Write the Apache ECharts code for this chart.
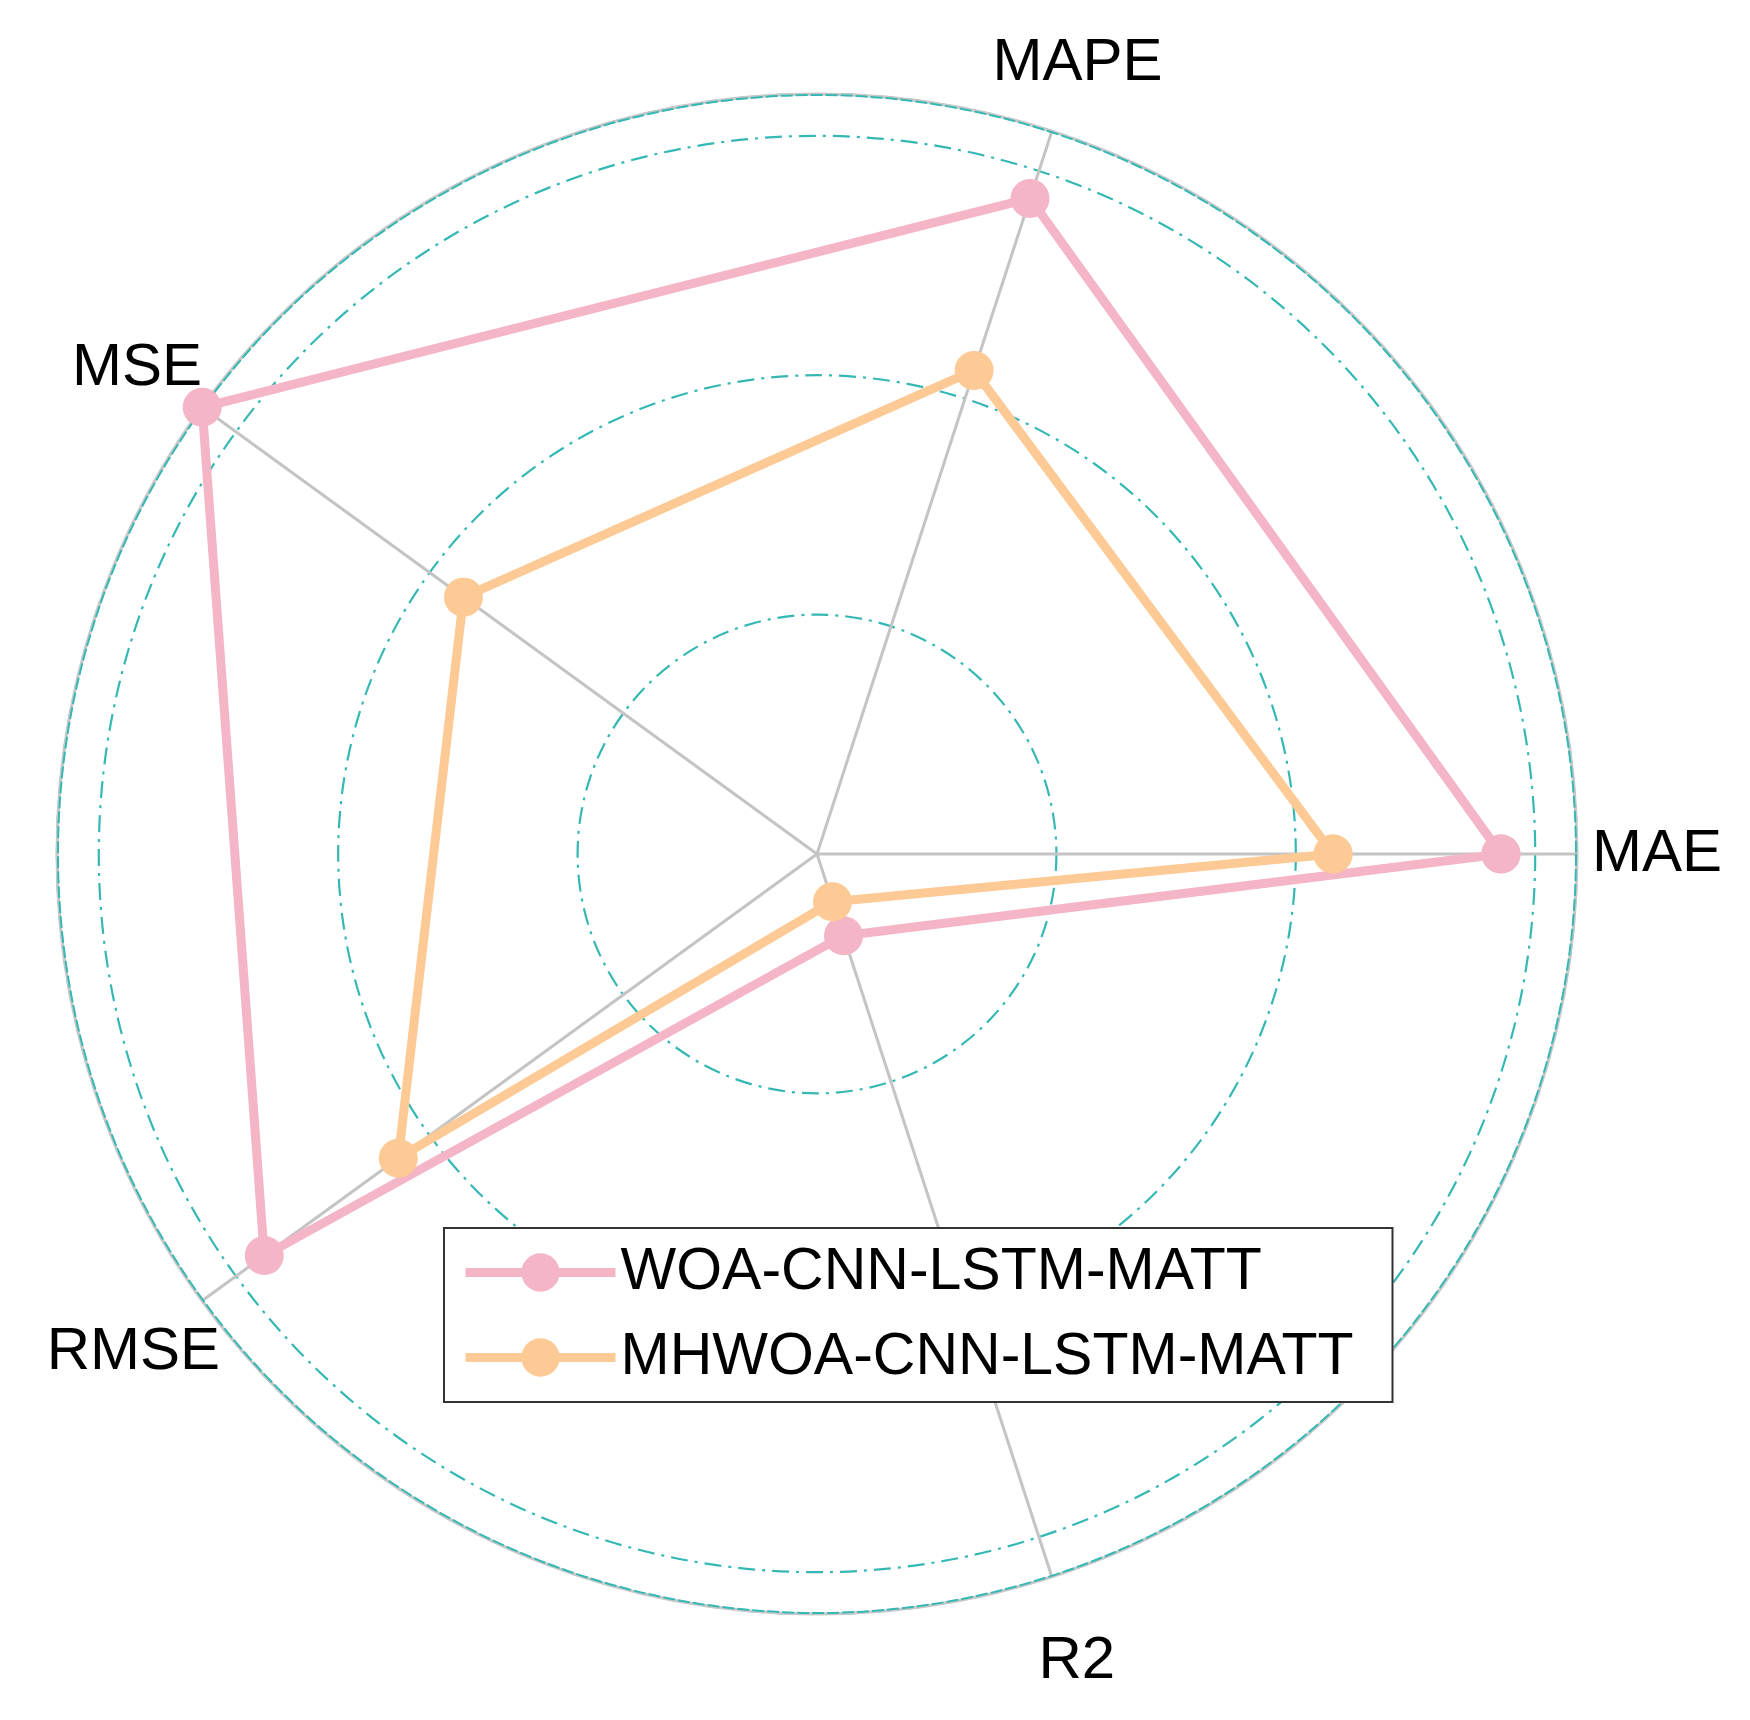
<!DOCTYPE html>
<html>
<head>
<meta charset="utf-8">
<script src="https://cdn.jsdelivr.net/npm/echarts@6/dist/echarts.min.js"></script>
<style>
  html, body { margin: 0; padding: 0; background: #fff; }
  #chart { width: 1750px; height: 1720px; }
</style>
</head>
<body>
<div id="chart"></div>
<script>
// indicators, counter-clockwise from the right
const metrics = ['MAE', 'MAPE', 'MSE', 'RMSE', 'R2']
const seriesNames = ['WOA-CNN-LSTM-MATT', 'MHWOA-CNN-LSTM-MATT']
// normalised scores
const woaValues = [0.900, 0.907, 1.000, 0.899, 0.113]
const mhwoaValues = [0.679, 0.669, 0.575, 0.681, 0.066]

const step = 360 / metrics.length
// label nudges [top, right, bottom, left]
const labelPad = [
  [0, 0, 0, 0],
  [0, 0, 23, -64],
  [0, -12, 0, 0],
  [13, -30, 0, 0],
  [40, 0, 0, -18]
]

// close the loop by repeating the first value at 360°
const toPolar = (vals) => vals.map((v, i) => [v, i * step]).concat([[vals[0], 360]])

const rich = {}
labelPad.forEach((p, i) => {
  rich['l' + i] = { fontSize: 60, color: '#000', fontFamily: 'Liberation Sans, Arial, sans-serif', padding: p }
})

const teal = '#35b8b4'
const pink = '#f4b5c6'
const orange = '#fdca95'

const chart = echarts.init(document.getElementById('chart'), null, { renderer: 'canvas' })

const hiddenRadius = {
  polarIndex: 1,
  min: 0,
  max: 1,
  axisLine: { show: false },
  axisTick: { show: false },
  axisLabel: { show: false },
  splitLine: { show: false }
}

const option = {
  backgroundColor: '#fff',
  animation: false,
  polar: [
    { center: [817, 854], radius: 760 },
    { center: [817, 854], radius: 759 }
  ],
  angleAxis: [
    {
      polarIndex: 0,
      type: 'value',
      min: 0,
      max: 360,
      interval: step,
      startAngle: 0,
      clockwise: false,
      axisLine: { show: true, lineStyle: { color: '#c8c8c8', width: 3 } },
      axisTick: { show: false },
      axisLabel: {
        margin: 15,
        formatter: (v) => {
          const i = Math.round(v / step)
          if (i >= metrics.length) return ''
          return '{l' + i + '|' + metrics[i] + '}'
        },
        rich: rich
      },
      splitLine: { show: true, lineStyle: { color: '#c4c4c4', width: 3 } }
    },
    {
      // teal dashes over the grey rim
      polarIndex: 1,
      type: 'value',
      min: 0,
      max: 360,
      startAngle: 0,
      clockwise: false,
      z: 3,
      axisLine: { show: true, lineStyle: { color: teal, width: 2, type: [12, 3] } },
      axisTick: { show: false },
      axisLabel: { show: false },
      splitLine: { show: false }
    }
  ],
  radiusAxis: [
    {
      polarIndex: 0,
      min: 0,
      max: 1,
      interval: 0.315,
      axisLine: { show: false },
      axisTick: { show: false },
      axisLabel: { show: false },
      splitLine: {
        show: true,
        lineStyle: { color: teal, width: 2.2, type: [17, 7, 3, 7] }
      }
    },
    hiddenRadius
  ],
  legend: {
    orient: 'vertical',
    left: 444,
    top: 1228,
    padding: [15, 39, 15, 17],
    itemWidth: 150,
    itemHeight: 48,
    itemGap: 26,
    backgroundColor: '#fff',
    borderColor: '#333',
    borderWidth: 2,
    borderRadius: 0,
    lineStyle: { width: 9 },
    textStyle: {
      fontSize: 59,
      color: '#000',
      fontFamily: 'Liberation Sans, Arial, sans-serif'
    },
    data: seriesNames
  },
  series: [
    {
      name: seriesNames[0],
      type: 'line',
      coordinateSystem: 'polar',
      polarIndex: 0,
      data: toPolar(woaValues),
      clip: false,
      symbol: 'circle',
      symbolSize: 39,
      color: pink,
      lineStyle: { width: 9, color: pink },
      itemStyle: { color: pink },
      z: 5
    },
    {
      name: seriesNames[1],
      type: 'line',
      coordinateSystem: 'polar',
      polarIndex: 0,
      data: toPolar(mhwoaValues),
      clip: false,
      symbol: 'circle',
      symbolSize: 39,
      color: orange,
      lineStyle: { width: 9, color: orange },
      itemStyle: { color: orange },
      z: 6
    }
  ]
}

chart.setOption(option)
</script>
</body>
</html>
